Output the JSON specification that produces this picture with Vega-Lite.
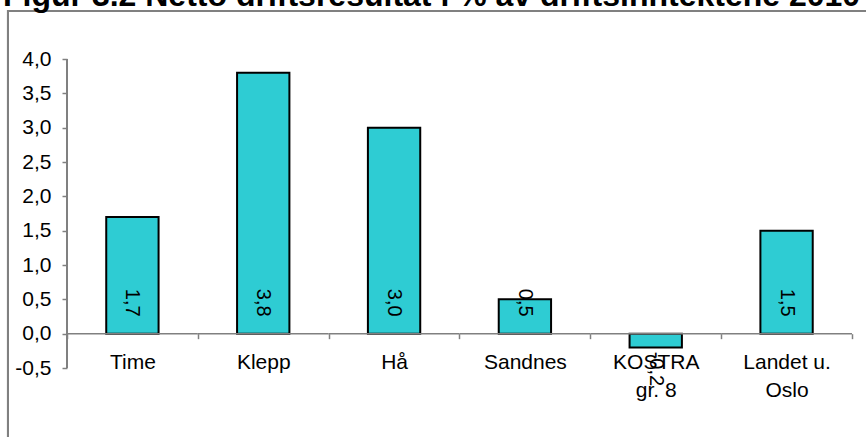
{
  "$schema": "https://vega.github.io/schema/vega-lite/v6.json",
  "width": 858,
  "height": 427,
  "autosize": {"type": "none"},
  "padding": {"left": 8, "top": 10, "right": 0, "bottom": 0},
  "background": "white",
  "config": {
    "view": {"stroke": null},
    "font": "Liberation Sans"
  },
  "title": {
    "text": "Figur 3.2 Netto driftsresultat i % av driftsinntektene 2010",
    "anchor": "start",
    "frame": "group",
    "orient": "top",
    "fontSize": 32,
    "fontWeight": "bold",
    "font": "Liberation Sans",
    "color": "black",
    "baseline": "alphabetic",
    "offset": 0,
    "dx": -5,
    "dy": 29
  },
  "data": {
    "values": [
      {"kommune": "Time", "value": 1.7},
      {"kommune": "Klepp", "value": 3.8},
      {"kommune": "Hå", "value": 3.0},
      {"kommune": "Sandnes", "value": 0.5},
      {"kommune": "KOSTRA gr. 8", "value": -0.2},
      {"kommune": "Landet u. Oslo", "value": 1.5}
    ]
  },
  "transform": [
    {"calculate": "(datum.value < 0 ? '-' : '') + replace(format(abs(datum.value), '.1f'), '.', ',')", "as": "label"}
  ],
  "layer": [
    {
      "mark": {"type": "bar", "color": "#2ECCD3", "stroke": "black", "strokeWidth": 2, "width": {"band": 0.4}},
      "encoding": {
        "x": {
          "field": "kommune",
          "type": "nominal",
          "sort": null,
          "scale": {"paddingInner": 0, "paddingOuter": 0.279, "align": 0.808},
          "axis": {
            "orient": "bottom",
            "offset": -103.33,
            "domain": false,
            "ticks": true,
            "tickBand": "extent",
            "tickSize": 5,
            "tickColor": "#808080",
            "tickWidth": 1.5,
            "labelAngle": 0,
            "labelFontSize": 21,
            "labelColor": "black",
            "labelPadding": 13,
            "labelLineHeight": 28,
            "labelExpr": "datum.value == 'KOSTRA gr. 8' ? ['KOSTRA', 'gr. 8'] : datum.value == 'Landet u. Oslo' ? ['Landet u.', 'Oslo'] : datum.value",
            "title": null,
            "grid": false
          }
        },
        "y": {
          "field": "value",
          "type": "quantitative",
          "scale": {"domain": [-1.5048, 4.71359], "nice": false, "zero": false},
          "axis": {
            "values": [-0.5, 0, 0.5, 1, 1.5, 2, 2.5, 3, 3.5, 4],
            "offset": -59,
            "domain": false,
            "tickSize": 5,
            "tickColor": "#808080",
            "tickWidth": 1.5,
            "labelFontSize": 21,
            "labelColor": "black",
            "labelPadding": 11,
            "labelExpr": "(datum.value < 0 ? '-' : '') + replace(format(abs(datum.value), '.1f'), '.', ',')",
            "title": null,
            "grid": false
          }
        },
        "y2": {"datum": 0}
      }
    },
    {
      "mark": {"type": "bar", "fillOpacity": 0, "stroke": "#808080", "strokeWidth": 1.5, "width": {"band": 1}},
      "encoding": {
        "x": {"field": "kommune", "type": "nominal", "sort": null},
        "y": {"datum": 0, "type": "quantitative"},
        "y2": {"datum": 0}
      }
    },
    {
      "mark": {"type": "rule", "stroke": "#808080", "strokeWidth": 1.5},
      "encoding": {
        "x": {"datum": "Time", "type": "nominal", "bandPosition": 0},
        "y": {"datum": -0.5, "type": "quantitative"},
        "y2": {"datum": 4}
      }
    },
    {
      "mark": {"type": "rule", "stroke": "#808080", "strokeWidth": 2},
      "encoding": {
        "x": {"value": 0},
        "x2": {"value": "width"},
        "y": {"datum": 4.699, "type": "quantitative"}
      }
    },
    {
      "mark": {"type": "rule", "stroke": "#808080", "strokeWidth": 2},
      "encoding": {
        "x": {"datum": "Time", "type": "nominal", "bandPosition": -0.451}
      }
    },
    {
      "transform": [{"filter": "datum.value > 0"}],
      "mark": {"type": "text", "angle": 90, "align": "right", "baseline": "middle", "dx": -17, "fontSize": 20, "color": "black"},
      "encoding": {
        "x": {"field": "kommune", "type": "nominal", "sort": null},
        "y": {"datum": 0, "type": "quantitative"},
        "text": {"field": "label"}
      }
    },
    {
      "transform": [{"filter": "datum.value < 0"}],
      "mark": {"type": "text", "angle": 90, "align": "left", "baseline": "middle", "dx": 18, "fontSize": 20, "color": "black"},
      "encoding": {
        "x": {"field": "kommune", "type": "nominal", "sort": null},
        "y": {"datum": 0, "type": "quantitative"},
        "text": {"field": "label"}
      }
    }
  ]
}
